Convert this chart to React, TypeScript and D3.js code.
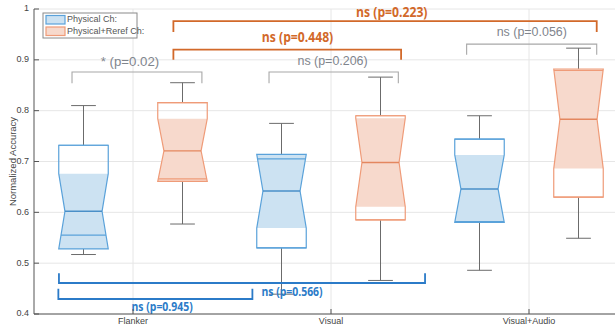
import React from "react";
import * as d3 from "d3";

const WIDTH = 615;
const HEIGHT = 331;

// categories and groups
const categories = ["Flanker", "Visual", "Visual+Audio"];
const groups = ["Physical Ch:", "Physical+Reref Ch:"];
const yTicks = [0.4, 0.5, 0.6, 0.7, 0.8, 0.9, 1];

// box stats per group, one entry per category
const physWhiskerLow = [0.517, 0.439, 0.486];
const physQ1 = [0.555, 0.530, 0.582];
const physNotchLow = [0.528, 0.569, 0.580];
const physMedian = [0.602, 0.642, 0.646];
const physNotchHigh = [0.676, 0.714, 0.713];
const physQ3 = [0.732, 0.705, 0.744];
const physWhiskerHigh = [0.810, 0.775, 0.790];

const rerefWhiskerLow = [0.577, 0.466, 0.549];
const rerefQ1 = [0.666, 0.585, 0.630];
const rerefNotchLow = [0.661, 0.611, 0.686];
const rerefMedian = [0.721, 0.698, 0.783];
const rerefNotchHigh = [0.784, 0.785, 0.882];
const rerefQ3 = [0.816, 0.790, 0.879];
const rerefWhiskerHigh = [0.855, 0.866, 0.923];

// significance brackets (x in category units, y in accuracy units)
const bracketKind = ["grey", "grey", "grey", "orange", "orange", "blue", "blue"];
const bracketX1 = [0.692, 1.687, 2.685, 1.204, 1.204, 0.623, 0.626];
const bracketX2 = [1.348, 2.34, 3.342, 2.354, 3.342, 1.603, 2.475];
const bracketY = [0.876, 0.876, 0.931, 0.92, 0.976, 0.4295, 0.461];
const bracketTip = [-0.022, -0.022, -0.021, -0.02, -0.021, 0.02, 0.019];
const bracketLabel = ["* (p=0.02)", "ns (p=0.206)", "ns (p=0.056)", "ns (p=0.448)", "ns (p=0.223)", "ns (p=0.945)", "ns (p=0.566)"];
const labelX = [0.985, 2.008, 3.014, 1.831, 2.307, 1.147, 1.803];
const labelY = [0.895, 0.897, 0.953, 0.943, 0.992, 0.4125, 0.442];

const palette = {
  blue: { line: "#5aa2da", fill: "#cce2f2", median: "#4a8fc8" },
  orange: { line: "#ef9b78", fill: "#f7d9cc", median: "#e4875f" },
};
const bracketColor: Record<string, string> = { grey: "#a8a8a8", orange: "#d2692a", blue: "#2b7bc8" };
const labelStyle: Record<string, any> = {
  grey: { size: 12, charW: 5.85, weight: 400, fill: "#7f858d" },
  orange: { size: 14.5, charW: 5.95, weight: 700, fill: "#d2692a" },
  blue: { size: 12.5, charW: 5.1, weight: 700, fill: "#2b7bc8" },
};

const margin = { left: 34, top: 9, bottom: 17 };

function NotchBox({ x, w, s, col }: any) {
  const l = x - w / 2;
  const r = x + w / 2;
  const d = w * 0.125;
  const top = Math.min(s.q3, s.nh);
  const bot = Math.max(s.q1, s.nl);
  const outline = [
    [l, top], [l, s.nh], [l + d, s.med], [l, s.nl], [l, bot],
    [r, bot], [r, s.nl], [r - d, s.med], [r, s.nh], [r, top],
  ];
  const notch = [
    [l, s.nh], [l + d, s.med], [l, s.nl], [r, s.nl], [r - d, s.med], [r, s.nh],
  ];
  const line = d3.line();
  const widthAt = (y: number) => {
    // half-width of the outline at pixel y
    if ((y - s.nh) * (y - s.med) <= 0 && s.nh !== s.med) return w / 2 - d * (y - s.nh) / (s.med - s.nh);
    if ((y - s.nl) * (y - s.med) <= 0 && s.nl !== s.med) return w / 2 - d * (y - s.nl) / (s.med - s.nl);
    return w / 2;
  };
  return (
    <g>
      <line x1={x} x2={x} y1={s.wh} y2={top} stroke="#6b6b6b" strokeWidth={1} />
      <line x1={x} x2={x} y1={bot} y2={s.wl} stroke="#6b6b6b" strokeWidth={1} />
      <line x1={x - w / 4} x2={x + w / 4} y1={s.wh} y2={s.wh} stroke="#6b6b6b" strokeWidth={1} />
      <line x1={x - w / 4} x2={x + w / 4} y1={s.wl} y2={s.wl} stroke="#6b6b6b" strokeWidth={1} />
      <path d={line(notch as any) + "Z"} fill={col.fill} stroke="none" />
      <path d={line(outline as any) + "Z"} fill="none" stroke={col.line} strokeWidth={1.2} />
      {[s.q1, s.q3].map((y: number, i: number) => (
        <line key={i} x1={x - widthAt(y)} x2={x + widthAt(y)} y1={y} y2={y} stroke={col.line} strokeWidth={1.2} />
      ))}
      <line x1={l + d} x2={r - d} y1={s.med} y2={s.med} stroke={col.median} strokeWidth={1.4} />
    </g>
  );
}

export default function App() {
  const x = d3.scaleLinear().domain([0.5, 3.5]).range([margin.left, 628]);
  const y = d3.scaleLinear().domain([0.4, 1]).range([HEIGHT - margin.bottom, margin.top]);
  const boxW = x(1.25) - x(1);

  const stats = (arrs: number[][], i: number) => ({
    wl: y(arrs[0][i]), q1: y(arrs[1][i]), nl: y(arrs[2][i]), med: y(arrs[3][i]),
    nh: y(arrs[4][i]), q3: y(arrs[5][i]), wh: y(arrs[6][i]),
  });
  const phys = [physWhiskerLow, physQ1, physNotchLow, physMedian, physNotchHigh, physQ3, physWhiskerHigh];
  const reref = [rerefWhiskerLow, rerefQ1, rerefNotchLow, rerefMedian, rerefNotchHigh, rerefQ3, rerefWhiskerHigh];

  const font = "'Liberation Sans', Arial, sans-serif";
  const y0 = y(0.4);

  return (
    <svg width={WIDTH} height={HEIGHT} style={{ position: "absolute", left: 0, top: 0, background: "#fff" }}>
      {/* grid */}
      {yTicks.map((t) => (
        <line key={t} x1={margin.left} x2={WIDTH} y1={y(t)} y2={y(t)} stroke="#e6e6e6" strokeWidth={1} />
      ))}
      {categories.map((c, i) => (
        <line key={c} x1={x(i + 1)} x2={x(i + 1)} y1={y(1)} y2={y0} stroke="#e6e6e6" strokeWidth={1} />
      ))}

      {/* boxes */}
      {categories.map((c, i) => (
        <g key={c}>
          <NotchBox x={x(i + 1 - 0.25)} w={boxW} s={stats(phys, i)} col={palette.blue} />
          <NotchBox x={x(i + 1 + 0.25)} w={boxW} s={stats(reref, i)} col={palette.orange} />
        </g>
      ))}

      {/* brackets */}
      {bracketLabel.map((lab, i) => {
        const k = bracketKind[i];
        const col = bracketColor[k];
        const st = labelStyle[k];
        const by = y(bracketY[i]);
        const ty = y(bracketY[i] + bracketTip[i]);
        const bold = k !== "grey";
        return (
          <g key={lab}>
            <path
              d={`M${x(bracketX1[i])},${ty}L${x(bracketX1[i])},${by}L${x(bracketX2[i])},${by}L${x(bracketX2[i])},${ty}`}
              fill="none"
              stroke={col}
              strokeWidth={bold ? 1.8 : 1.1}
            />
            <text
              x={x(labelX[i])}
              y={y(labelY[i])}
              textAnchor="middle"
              dominantBaseline="middle"
              fontFamily={bold ? "'Open Sans', 'Noto Sans', sans-serif" : font}
              fontWeight={st.weight}
              fontSize={st.size}
              fill={st.fill}
              textLength={lab.length * st.charW}
              lengthAdjust="spacingAndGlyphs"
            >
              {lab}
            </text>
          </g>
        );
      })}

      {/* axes */}
      <line x1={margin.left} x2={margin.left} y1={y(1)} y2={y0} stroke="#555" strokeWidth={1} />
      <line x1={margin.left} x2={WIDTH} y1={y0} y2={y0} stroke="#555" strokeWidth={1} />
      {yTicks.map((t) => (
        <g key={t}>
          <line x1={margin.left} x2={margin.left + 5} y1={y(t)} y2={y(t)} stroke="#555" />
          <text x={margin.left - 5} y={y(t)} textAnchor="end" dominantBaseline="middle" fontFamily={font} fontSize={9} fill="#444">
            {t}
          </text>
        </g>
      ))}
      {categories.map((c, i) => (
        <g key={c}>
          <line x1={x(i + 1)} x2={x(i + 1)} y1={y0} y2={y0 - 5} stroke="#555" />
          <text x={x(i + 1)} y={y0 + 8} textAnchor="middle" dominantBaseline="middle" fontFamily={font} fontSize={9} fill="#444">
            {c}
          </text>
        </g>
      ))}
      <text
        transform={`translate(13,${(y(1) + y0) / 2}) rotate(-90)`}
        textAnchor="middle"
        dominantBaseline="middle"
        fontFamily={font}
        fontSize={9.5}
        fill="#444"
      >
        Normalized Accuracy
      </text>

      {/* legend */}
      <rect x={43} y={13} width={94} height={25} fill="#fff" stroke="#8a8a8a" strokeWidth={1} />
      {groups.map((g, i) => {
        const col = i === 0 ? palette.blue : palette.orange;
        return (
          <g key={g}>
            <rect x={46} y={15.5 + i * 11.5} width={19} height={8.5} fill={col.fill} stroke={col.line} strokeWidth={1.2} />
            <text x={67} y={20 + i * 11.5} dominantBaseline="middle" fontFamily={font} fontSize={9} fill="#555">
              {g}
            </text>
          </g>
        );
      })}
    </svg>
  );
}
